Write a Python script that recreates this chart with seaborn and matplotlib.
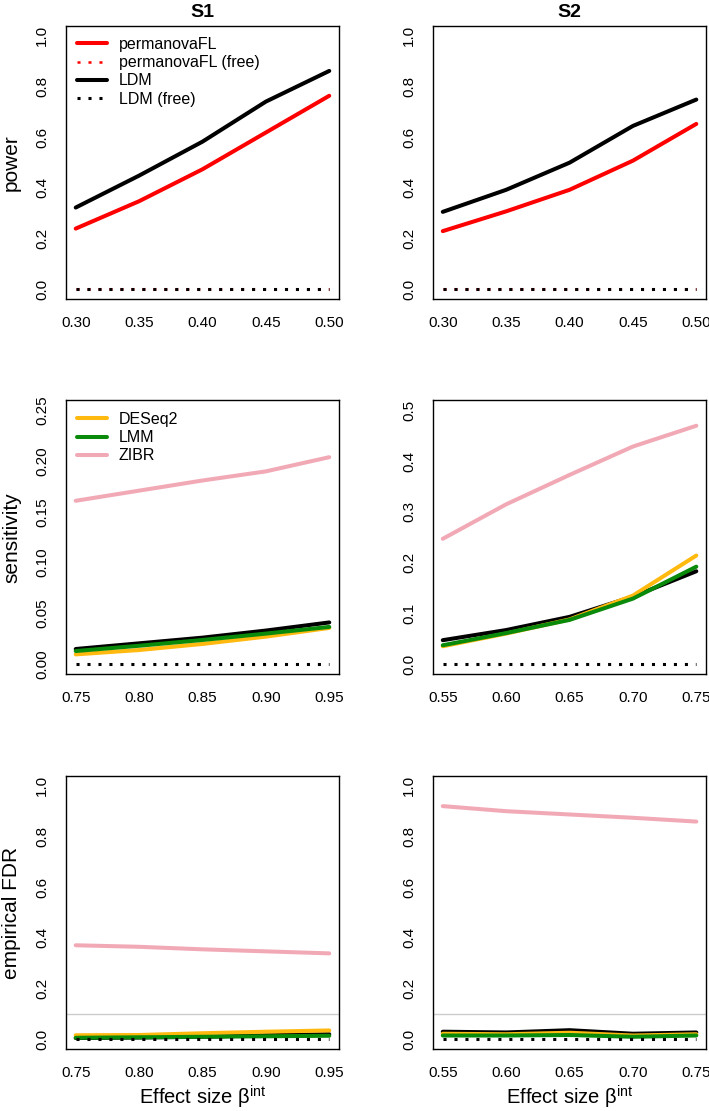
#!/usr/bin/env python3
"""Power, sensitivity and empirical FDR for the S1 and S2 simulation settings."""

import matplotlib

matplotlib.use("Agg")
import matplotlib.pyplot as plt
import seaborn as sns

# effect sizes
X_POWER = [0.30, 0.35, 0.40, 0.45, 0.50]
X_S1 = [0.75, 0.80, 0.85, 0.90, 0.95]
X_S2 = [0.55, 0.60, 0.65, 0.70, 0.75]

# power (global tests)
POWER_S1_PERMANOVA = [0.239, 0.347, 0.473, 0.618, 0.763]
POWER_S1_LDM = [0.322, 0.448, 0.582, 0.740, 0.861]
POWER_S2_PERMANOVA = [0.229, 0.307, 0.392, 0.507, 0.652]
POWER_S2_LDM = [0.305, 0.392, 0.499, 0.644, 0.748]
POWER_FREE = [0.0, 0.0, 0.0, 0.0, 0.0]

# sensitivity (taxon-level tests)
SENS_S1_LDM = [0.0148, 0.0204, 0.0260, 0.0330, 0.0410]
SENS_S1_DESEQ2 = [0.0095, 0.0138, 0.0198, 0.0270, 0.0356]
SENS_S1_LMM = [0.0128, 0.0180, 0.0237, 0.0300, 0.0366]
SENS_S1_ZIBR = [0.161, 0.171, 0.181, 0.190, 0.204]
SENS_S2_LDM = [0.047, 0.067, 0.093, 0.133, 0.183]
SENS_S2_DESEQ2 = [0.035, 0.060, 0.088, 0.135, 0.214]
SENS_S2_LMM = [0.037, 0.061, 0.087, 0.129, 0.192]
SENS_S2_ZIBR = [0.247, 0.315, 0.373, 0.429, 0.470]
SENS_FREE = [0.0, 0.0, 0.0, 0.0, 0.0]

# empirical FDR
FDR_S1_LDM = [0.005, 0.007, 0.010, 0.016, 0.020]
FDR_S1_DESEQ2 = [0.016, 0.017, 0.024, 0.030, 0.035]
FDR_S1_LMM = [0.006, 0.008, 0.010, 0.012, 0.014]
FDR_S1_ZIBR = [0.371, 0.365, 0.355, 0.347, 0.339]
FDR_S2_LDM = [0.030, 0.027, 0.036, 0.022, 0.027]
FDR_S2_DESEQ2 = [0.022, 0.020, 0.026, 0.015, 0.020]
FDR_S2_LMM = [0.015, 0.015, 0.017, 0.010, 0.015]
FDR_S2_ZIBR = [0.920, 0.900, 0.887, 0.874, 0.859]
FDR_FREE = [0.0, 0.0, 0.0, 0.0, 0.0]
FDR_NOMINAL = 0.1

RED = "#FF0000"
BLACK = "#000000"
ORANGE = "#FFB90F"
GREEN = "#0A8A0A"
PINK = "#F2A9B6"

LW = 2.9
DOT_LW = 2.2
DOT_ON, DOT_OFF = 2.2, 5.7  # points

sns.set_style("white")
plt.rcParams["font.family"] = ["Liberation Sans", "DejaVu Sans"]
plt.rcParams["mathtext.fontset"] = "custom"
plt.rcParams["mathtext.rm"] = "Liberation Sans"
plt.rcParams["mathtext.it"] = "Liberation Sans:italic"
for key in ["text.color", "axes.labelcolor", "xtick.color", "ytick.color"]:
    plt.rcParams[key] = "black"

fig = plt.figure(figsize=(7.09, 11.11), dpi=100)

LEFTS = [0.0925, 0.6102]
BOTTOMS = [0.7306, 0.3932, 0.0554]
W, H = 0.3862, 0.2464


def solid(ax, x, y, color, label=None):
    sns.lineplot(x=x, y=y, ax=ax, color=color, linewidth=LW, label=label,
                 solid_capstyle="round", solid_joinstyle="round")


def dotted(ax, x, y, color, label=None, lw=DOT_LW):
    # keep the same dot pattern in absolute units whatever the width
    pattern = (0, (DOT_ON / lw, DOT_OFF / lw))
    sns.lineplot(x=x, y=y, ax=ax, color=color, linewidth=lw, linestyle=pattern,
                 label=label, dash_capstyle="butt")


def style_axes(ax, xs, ylim, yticks, yfmt):
    x0, x1 = xs[0], xs[-1]
    pad = 0.04 * (x1 - x0)
    ax.set_xlim(x0 - pad, x1 + pad)
    ypad = 0.04 * (ylim[1] - ylim[0])
    ax.set_ylim(ylim[0] - ypad, ylim[1] + ypad)
    ax.set_xticks(xs)
    ax.set_xticklabels([f"{v:.2f}" for v in xs])
    ax.set_yticks(yticks)
    ax.set_yticklabels([yfmt.format(v) for v in yticks])
    ax.tick_params(axis="both", direction="out", length=5.8, width=0.8,
                   pad=6.0, labelsize=11, colors="black")
    ax.tick_params(axis="y", labelrotation=90)
    for lab in ax.get_yticklabels():
        lab.set_va("center")
    for sp in ax.spines.values():
        sp.set_visible(True)
        sp.set_color("black")
        sp.set_linewidth(1.0)
    ax.set_xlabel("")
    ax.set_ylabel("")


def add_legend(ax):
    ax.legend(loc="upper left", frameon=False, fontsize=11.5, handlelength=1.85,
              handletextpad=0.75, labelspacing=0.2, borderpad=0.0,
              borderaxespad=0.72)


axes = [[fig.add_axes([l, b, W, H]) for l in LEFTS] for b in BOTTOMS]

# row 1: power
power_data = [(POWER_S1_PERMANOVA, POWER_S1_LDM), (POWER_S2_PERMANOVA, POWER_S2_LDM)]
for j, (perm, ldm) in enumerate(power_data):
    ax = axes[0][j]
    lab = (lambda s: s) if j == 0 else (lambda s: None)
    solid(ax, X_POWER, perm, RED, lab("permanovaFL"))
    dotted(ax, X_POWER, POWER_FREE, RED, lab("permanovaFL (free)"), lw=1.8)
    solid(ax, X_POWER, ldm, BLACK, lab("LDM"))
    dotted(ax, X_POWER, POWER_FREE, BLACK, lab("LDM (free)"))
    style_axes(ax, X_POWER, (0, 1), [0, 0.2, 0.4, 0.6, 0.8, 1.0], "{:.1f}")
    ax.set_title(["S1", "S2"][j], fontsize=14, fontweight="bold", pad=6)
    if j == 0:
        add_legend(ax)
    elif ax.get_legend() is not None:
        ax.get_legend().remove()

# row 2: sensitivity
sens_data = [
    (X_S1, SENS_S1_LDM, SENS_S1_DESEQ2, SENS_S1_LMM, SENS_S1_ZIBR, (0, 0.25),
     [0, 0.05, 0.10, 0.15, 0.20, 0.25], "{:.2f}"),
    (X_S2, SENS_S2_LDM, SENS_S2_DESEQ2, SENS_S2_LMM, SENS_S2_ZIBR, (0, 0.5),
     [0, 0.1, 0.2, 0.3, 0.4, 0.5], "{:.1f}"),
]
for j, (xs, ldm, deseq, lmm, zibr, ylim, yt, fmt) in enumerate(sens_data):
    ax = axes[1][j]
    lab = (lambda s: s) if j == 0 else (lambda s: None)
    solid(ax, xs, ldm, BLACK)
    solid(ax, xs, deseq, ORANGE, lab("DESeq2"))
    solid(ax, xs, lmm, GREEN, lab("LMM"))
    solid(ax, xs, zibr, PINK, lab("ZIBR"))
    dotted(ax, xs, SENS_FREE, BLACK)
    style_axes(ax, xs, ylim, yt, fmt)
    if j == 0:
        add_legend(ax)
    elif ax.get_legend() is not None:
        ax.get_legend().remove()

# row 3: empirical FDR
fdr_data = [
    (X_S1, FDR_S1_LDM, FDR_S1_DESEQ2, FDR_S1_LMM, FDR_S1_ZIBR),
    (X_S2, FDR_S2_LDM, FDR_S2_DESEQ2, FDR_S2_LMM, FDR_S2_ZIBR),
]
for j, (xs, ldm, deseq, lmm, zibr) in enumerate(fdr_data):
    ax = axes[2][j]
    ax.axhline(FDR_NOMINAL, color="#CCCCCC", linewidth=1.0, zorder=1)
    solid(ax, xs, ldm, BLACK)
    solid(ax, xs, deseq, ORANGE)
    solid(ax, xs, lmm, GREEN)
    solid(ax, xs, zibr, PINK)
    dotted(ax, xs, FDR_FREE, BLACK)
    style_axes(ax, xs, (0, 1), [0, 0.2, 0.4, 0.6, 0.8, 1.0], "{:.1f}")
    ax.set_xlabel(r"Effect size β$^{\mathrm{int}}$", fontsize=14.5, labelpad=2.5)
    if ax.get_legend() is not None:
        ax.get_legend().remove()

for ax, name in zip([axes[0][0], axes[1][0], axes[2][0]],
                    ["power", "sensitivity", "empirical FDR"]):
    ax.set_ylabel(name, fontsize=15)
    ax.yaxis.set_label_coords(-0.163, 0.5)

fig.savefig("out.png", dpi=100)
plt.close(fig)
